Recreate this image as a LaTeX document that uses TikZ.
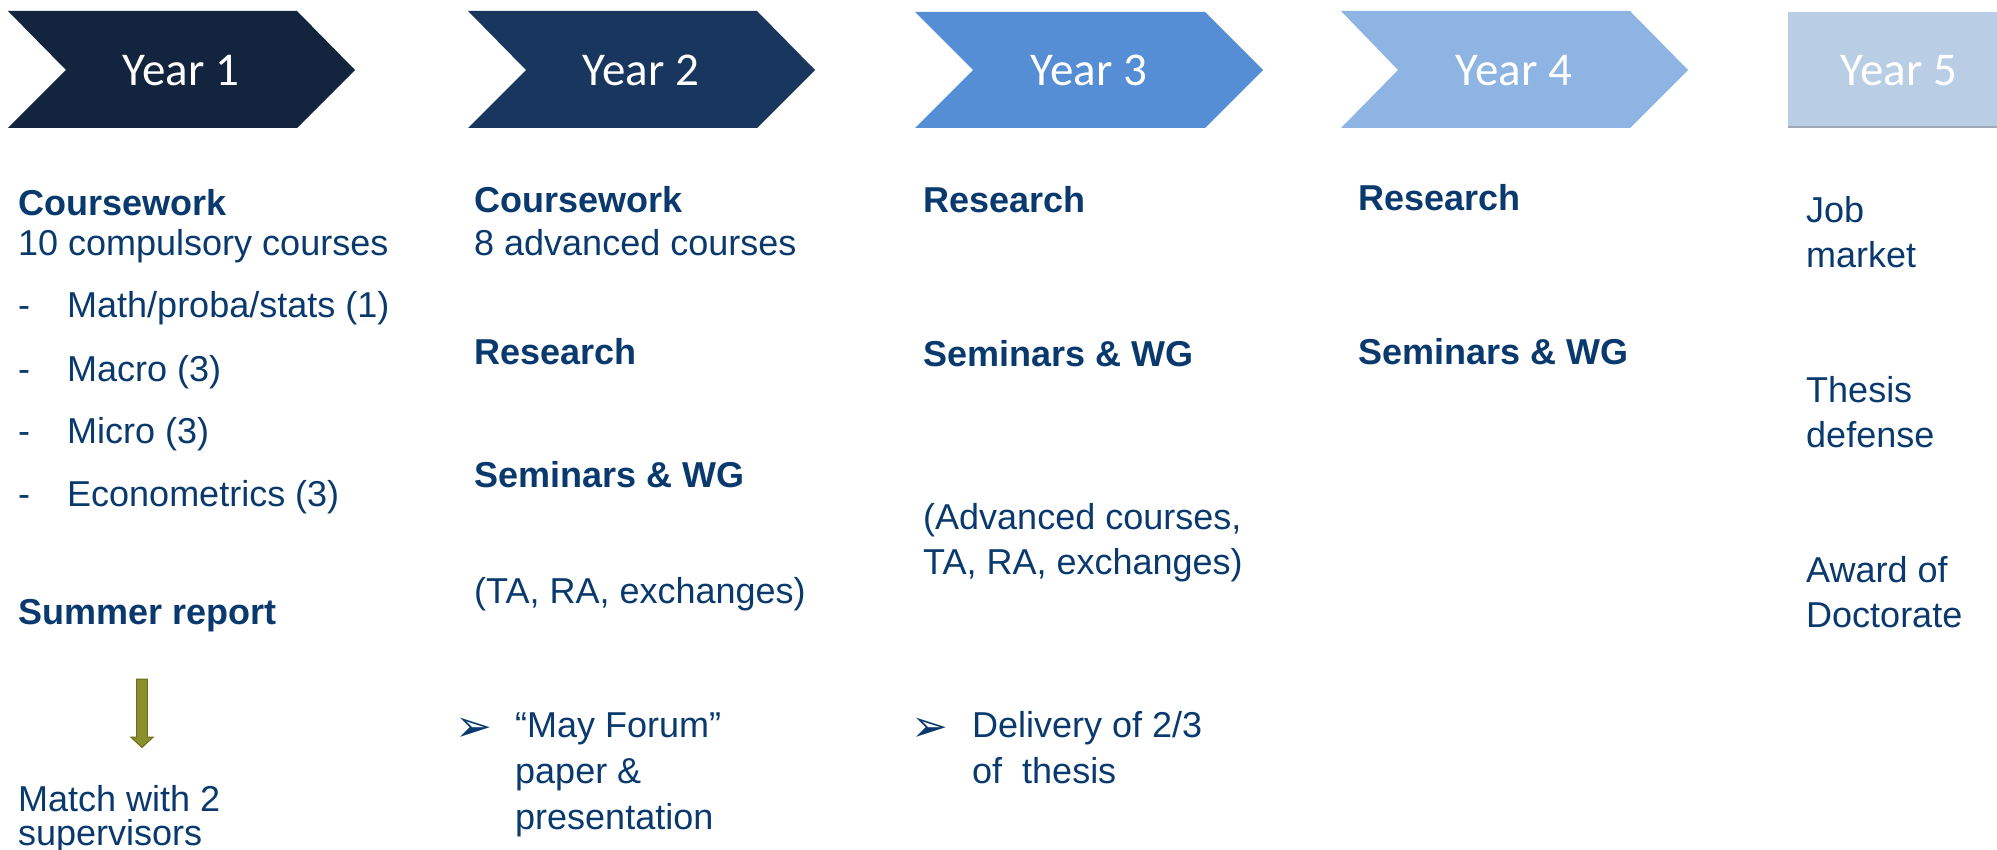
\documentclass[tikz,border=0pt]{standalone}
\usepackage{fontspec}
\setmainfont{Liberation Sans}
\newfontfamily\yearfont{Carlito}
\newfontfamily\bulletfont{DejaVu Sans}
\definecolor{navy}{HTML}{0A3A6D}
\definecolor{yrone}{HTML}{13243F}
\definecolor{yrtwo}{HTML}{19365E}
\definecolor{yrthree}{HTML}{558ED5}
\definecolor{yrfour}{HTML}{8EB4E3}
\definecolor{yrfive}{HTML}{B9CDE5}
\definecolor{olivefill}{HTML}{8C8F2E}
\definecolor{olivedraw}{HTML}{6C6D1E}
\tikzset{
  txt/.style={anchor=base west, inner sep=0pt, text=navy, font=\fontsize{36}{40}\selectfont},
  hd/.style={anchor=base west, inner sep=0pt, text=navy, font=\fontsize{36}{40}\selectfont\bfseries},
  bul/.style={anchor=base west, inner sep=0pt, text=navy, font=\bulletfont\fontsize{44}{48}\selectfont},
  yr/.style={anchor=base, inner sep=0pt, text=white, font=\yearfont\fontsize{47}{50}\selectfont},
}
\begin{document}
\begin{tikzpicture}[x=1pt,y=-1pt]
\useasboundingbox (0,0) rectangle (1997,850);
% chevrons
\fill[yrone]   (8,11) -- (297,11) -- (355,70) -- (297,128) -- (8,128) -- (66,70) -- cycle;
\fill[yrtwo]   (468,11) -- (757,11) -- (815,70) -- (757,128) -- (468,128) -- (526,70) -- cycle;
\fill[yrthree] (915,12) -- (1205,12) -- (1263,70) -- (1205,128) -- (915,128) -- (973,70) -- cycle;
\fill[yrfour]  (1341,11) -- (1630,11) -- (1688,70) -- (1630,128) -- (1341,128) -- (1398,70) -- cycle;
\fill[yrfive]  (1788,12) rectangle (2005,127);
\draw[color={rgb,255:red,160;green,168;blue,182}, line width=1.5pt] (1788,127) -- (2005,127);
\node[yr] (y1) at (181,86) {Year 1};
\node[yr] (y2) at (641,86) {Year 2};
\node[yr] (y3) at (1089,86) {Year 3};
\node[yr] (y4) at (1514,86) {Year 4};
\node[yr] (y5) at (1899,86) {Year 5};
% column 1
\node[hd]  (c1a) at (18,216) {Coursework};
\node[txt] (c1b) at (18,256) {10 compulsory courses};
\node[txt] (d1) at (18,318) {-};
\node[txt] (c1c) at (67,318) {Math/proba/stats (1)};
\node[txt] (d2) at (18,381) {-};
\node[txt] (c1d) at (67,381) {Macro (3)};
\node[txt] (d3) at (18,443) {-};
\node[txt] (c1e) at (67,443) {Micro (3)};
\node[txt] (d4) at (18,506) {-};
\node[txt] (c1f) at (67,506) {Econometrics (3)};
\node[hd]  (c1g) at (18,624) {Summer report};
\node[txt] (c1h) at (18,811) {Match with 2};
\node[txt] (c1i) at (18,845) {supervisors};
\fill[olivefill, draw=olivedraw, line width=1pt]
  (136.7,679) -- (147.3,679) -- (147.3,737) -- (153.3,737) -- (142,747.5)
  -- (130.7,737) -- (136.7,737) -- cycle;
% column 2
\node[hd]  (c2a) at (474,213) {Coursework};
\node[txt] (c2b) at (474,256) {8 advanced courses};
\node[hd]  (c2c) at (474,364) {Research};
\node[hd]  (c2d) at (474,487) {Seminars \& WG};
\node[txt] (c2e) at (474,603) {(TA, RA, exchanges)};
\node[bul] (b2) at (455,741) {➢};
\node[txt] (c2f) at (515,737) {“May Forum”};
\node[txt] (c2g) at (515,783) {paper \&};
\node[txt] (c2h) at (515,829) {presentation};
% column 3
\node[hd]  (c3a) at (923,213) {Research};
\node[hd]  (c3b) at (923,366) {Seminars \& WG};
\node[txt] (c3c) at (923,529) {(Advanced courses,};
\node[txt] (c3d) at (923,574) {TA, RA, exchanges)};
\node[bul] (b3) at (911,741) {➢};
\node[txt] (c3e) at (972,737) {Delivery of 2/3};
\node[txt] (c3f) at (972,783) {of\ \ thesis};
% column 4
\node[hd]  (c4a) at (1358,211) {Research};
\node[hd]  (c4b) at (1358,364) {Seminars \& WG};
% column 5
\node[txt] (c5a) at (1806,223) {Job};
\node[txt] (c5b) at (1806,268) {market};
\node[txt] (c5c) at (1806,402) {Thesis};
\node[txt] (c5d) at (1806,447) {defense};
\node[txt] (c5e) at (1806,582) {Award of};
\node[txt] (c5f) at (1806,627) {Doctorate};
\end{tikzpicture}
\end{document}
